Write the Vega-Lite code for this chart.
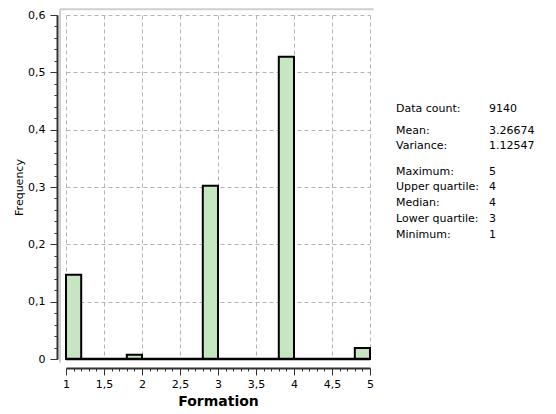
{
  "$schema": "https://vega.github.io/schema/vega-lite/v6.json",
  "width": 304,
  "height": 344,
  "autosize": "none",
  "padding": {"left": 66, "top": 15, "right": 186, "bottom": 55},
  "background": "white",
  "config": {"view": {"stroke": null}, "font": "DejaVu Sans"},
  "layer": [
    {
      "data": {"values": [{}]},
      "mark": {"type": "rule", "color": "#cfcfcf", "strokeWidth": 2},
      "encoding": {
        "x": {"datum": 0.921, "type": "quantitative", "scale": {"domain": [1, 5], "nice": false, "zero": false}, "axis": null},
        "x2": {"datum": 5.05},
        "y": {"datum": 0.6099, "type": "quantitative", "scale": {"domain": [0, 0.6], "nice": false}, "axis": null}
      }
    },
    {
      "data": {"values": [{}]},
      "mark": {"type": "rule", "color": "#cfcfcf", "strokeWidth": 2},
      "encoding": {
        "x": {"datum": 0.921, "type": "quantitative", "scale": {"domain": [1, 5], "nice": false, "zero": false}, "axis": null},
        "y": {"datum": -0.006, "type": "quantitative", "scale": {"domain": [0, 0.6], "nice": false}, "axis": null},
        "y2": {"datum": 0.6099}
      }
    },
    {
      "data": {"values": [
        {"bin_start": 1.0, "bin_end": 1.2, "frequency": 0.147},
        {"bin_start": 1.8, "bin_end": 2.0, "frequency": 0.0075},
        {"bin_start": 2.8, "bin_end": 3.0, "frequency": 0.302},
        {"bin_start": 3.8, "bin_end": 4.0, "frequency": 0.527},
        {"bin_start": 4.8, "bin_end": 5.0, "frequency": 0.019}
      ]},
      "mark": {"type": "bar", "fill": "#c6e6c2", "stroke": "#000000", "strokeWidth": 2},
      "encoding": {
        "x": {
          "field": "bin_start", "type": "quantitative",
          "scale": {"domain": [1, 5], "nice": false, "zero": false},
          "axis": {
            "orient": "bottom",
            "values": [1, 1.5, 2, 2.5, 3, 3.5, 4, 4.5, 5],
            "labelExpr": "replace(format(datum.value, '.1~f'), '.', ',')",
            "offset": 9, "tickSize": 7, "tickColor": "#333333", "tickWidth": 1,
            "domainColor": "#333333", "domainWidth": 2,
            "grid": true, "gridDash": [4, 3], "gridColor": "#b4b4b4", "gridWidth": 1,
            "labelFont": "DejaVu Sans", "labelFontSize": 11, "labelColor": "#000000",
            "labelPadding": 3, "labelFlush": false, "labelOverlap": false,
            "title": "Formation", "titleFont": "DejaVu Sans", "titleFontSize": 14,
            "titleFontWeight": "bold", "titleColor": "#000000", "titlePadding": 5
          }
        },
        "x2": {"field": "bin_end"},
        "y": {
          "field": "frequency", "type": "quantitative",
          "scale": {"domain": [0, 0.6], "nice": false},
          "axis": {
            "orient": "left",
            "values": [0, 0.1, 0.2, 0.3, 0.4, 0.5, 0.6],
            "labelExpr": "replace(format(datum.value, '.1~f'), '.', ',')",
            "offset": 9, "tickSize": 7, "tickColor": "#333333", "tickWidth": 1,
            "domainColor": "#333333", "domainWidth": 2,
            "grid": true, "gridDash": [4, 3], "gridColor": "#b4b4b4", "gridWidth": 1,
            "labelFont": "DejaVu Sans", "labelFontSize": 11, "labelColor": "#000000",
            "labelPadding": 5, "labelFlush": false, "labelOverlap": false,
            "title": "Frequency", "titleFont": "DejaVu Sans", "titleFontSize": 11,
            "titleFontWeight": "normal", "titleColor": "#000000", "titlePadding": 3
          }
        },
        "y2": {"datum": 0}
      }
    },
    {
      "data": {"values": [{}]},
      "mark": {"type": "rule", "color": "#000000", "strokeWidth": 2.5},
      "encoding": {
        "x": {
          "datum": 1, "type": "quantitative",
          "scale": {"domain": [1, 5], "nice": false, "zero": false},
          "axis": {
            "orient": "bottom",
            "values": [1, 1.1, 1.2, 1.3, 1.4, 1.5, 1.6, 1.7, 1.8, 1.9, 2, 2.1, 2.2, 2.3, 2.4, 2.5, 2.6, 2.7, 2.8, 2.9, 3, 3.1, 3.2, 3.3, 3.4, 3.5, 3.6, 3.7, 3.8, 3.9, 4, 4.1, 4.2, 4.3, 4.4, 4.5, 4.6, 4.7, 4.8, 4.9, 5],
            "offset": 9, "tickSize": 3, "tickColor": "#333333", "tickWidth": 1,
            "domain": false, "grid": false, "labels": false, "title": null
          }
        },
        "x2": {"datum": 5},
        "y": {
          "datum": 0, "type": "quantitative",
          "scale": {"domain": [0, 0.6], "nice": false},
          "axis": {
            "orient": "left",
            "values": [0, 0.02, 0.04, 0.06, 0.08, 0.1, 0.12, 0.14, 0.16, 0.18, 0.2, 0.22, 0.24, 0.26, 0.28, 0.3, 0.32, 0.34, 0.36, 0.38, 0.4, 0.42, 0.44, 0.46, 0.48, 0.5, 0.52, 0.54, 0.56, 0.58, 0.6],
            "offset": 9, "tickSize": 3, "tickColor": "#333333", "tickWidth": 1,
            "domain": false, "grid": false, "labels": false, "title": null
          }
        }
      }
    },
    {
      "data": {"name": "stats", "values": [
        {"stat": "Data count:", "value": "9140", "line": 0},
        {"stat": "Mean:", "value": "3.26674", "line": 1.4},
        {"stat": "Variance:", "value": "1.12547", "line": 2.4},
        {"stat": "Maximum:", "value": "5", "line": 4},
        {"stat": "Upper quartile:", "value": "4", "line": 5},
        {"stat": "Median:", "value": "4", "line": 6},
        {"stat": "Lower quartile:", "value": "3", "line": 7},
        {"stat": "Minimum:", "value": "1", "line": 8}
      ]},
      "layer": [
        {
          "mark": {"type": "text", "align": "left", "baseline": "middle", "font": "DejaVu Sans", "fontSize": 11, "color": "#000000"},
          "encoding": {
            "x": {"datum": 5.342, "type": "quantitative", "scale": {"domain": [1, 5], "nice": false, "zero": false}, "axis": null},
            "y": {"field": "line", "type": "quantitative", "scale": {"domain": [-5.95, 15.9], "reverse": true, "nice": false, "zero": false}, "axis": null},
            "text": {"field": "stat"}
          }
        },
        {
          "mark": {"type": "text", "align": "left", "baseline": "middle", "font": "DejaVu Sans", "fontSize": 11, "color": "#000000"},
          "encoding": {
            "x": {"datum": 6.566, "type": "quantitative", "scale": {"domain": [1, 5], "nice": false, "zero": false}, "axis": null},
            "y": {"field": "line", "type": "quantitative", "scale": {"domain": [-5.95, 15.9], "reverse": true, "nice": false, "zero": false}, "axis": null},
            "text": {"field": "value"}
          }
        }
      ]
    }
  ],
  "resolve": {"scale": {"x": "independent", "y": "independent"}, "axis": {"x": "independent", "y": "independent"}}
}
